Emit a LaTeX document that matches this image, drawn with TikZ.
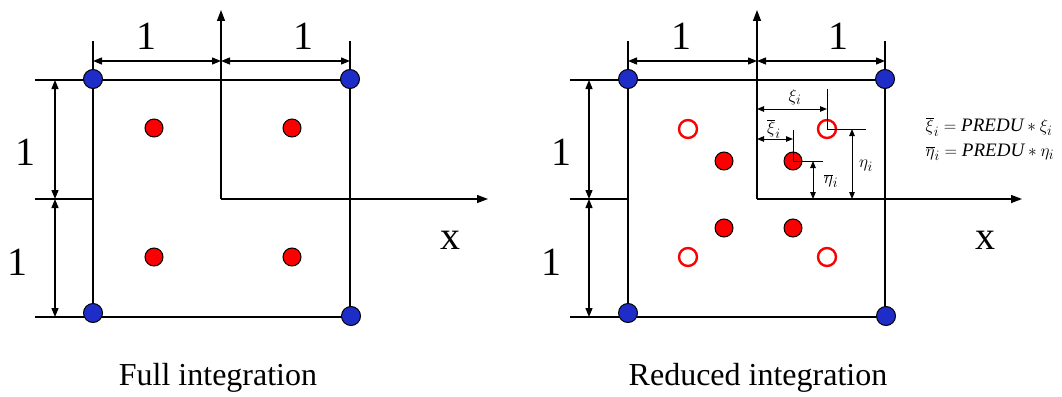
\documentclass[tikz,border=0pt]{standalone}
\usepackage{fontspec}
\setmainfont{Liberation Serif}
\usetikzlibrary{arrows.meta}
\definecolor{nodeblue}{RGB}{30,45,200}
\definecolor{gpred}{RGB}{250,0,0}
\begin{document}
\begin{tikzpicture}[x=1pt, y=-1pt, line width=1.3pt,
    corner/.style = {draw=black, line width=1pt, circle, fill=nodeblue, minimum size=19pt, inner sep=0pt},
    gauss/.style = {draw=black, line width=1pt, circle, fill=gpred, minimum size=18pt, inner sep=0pt},
    hollow/.style = {draw=gpred, line width=2.4pt, circle, fill=white, minimum size=18pt, inner sep=0pt},
    dim/.style = {{Triangle[length=9pt,width=7pt]}-{Triangle[length=9pt,width=7pt]}},
    small/.style = {line width=1pt, {Triangle[length=7pt,width=5.5pt]}-{Triangle[length=7pt,width=5.5pt]}},
    axis/.style = {-{Triangle[length=11pt,width=8pt]}},
    big/.style = {font=\fontsize{40}{44}\selectfont, inner sep=0pt},
    caption/.style = {font=\fontsize{32}{36}\selectfont, inner sep=0pt},
    sym/.style = {font=\fontsize{19}{22}\selectfont, inner sep=0pt}]
\useasboundingbox (0,0) rectangle (1062,396);

% full integration
\coordinate (fo) at (221,199);
\coordinate (fx) at (488,199);
\coordinate (fy) at (221,10);
\coordinate (ftl) at (35,80);
\coordinate (fml) at (35,199);
\coordinate (fbl) at (35,317);
\coordinate (fl) at (93,41);
\coordinate (fr) at (350,41);
\draw (ftl) -- (350,80);
\draw (fbl) -- (350,317);
\draw (fml) -- (93,199);
\draw (fl) -- (93,317);
\draw (fr) -- (350,317);
\draw[axis] (fo) -- (fx);
\draw[axis] (fo) -- (fy);
\draw[dim] (93,61) -- (221,61);
\draw[dim] (221,61) -- (350,61);
\draw[dim] (55,80) -- (55,199);
\draw[dim] (55,199) -- (55,317);
\node[corner] (f1) at (93,79) {};
\node[corner] (f2) at (350,79) {};
\node[corner] (f3) at (93,313) {};
\node[corner] (f4) at (351,316) {};
\node[gauss] (g1) at (154,128) {};
\node[gauss] (g2) at (292,128) {};
\node[gauss] (g3) at (154,257) {};
\node[gauss] (g4) at (292,257) {};
\node[big] (fd1) at (146,36) {1};
\node[big] (fd2) at (303,36) {1};
\node[big] (fd3) at (26,152) {1};
\node[big] (fd4) at (18,262) {1};
\node[big] (fxl) at (450,240) {x};
\node[caption] (fcap) at (218,378) {Full integration};

% reduced integration
\coordinate (ro) at (757,199);
\coordinate (rx) at (1022,199);
\coordinate (ry) at (757,10);
\coordinate (rtl) at (570,80);
\coordinate (rml) at (570,199);
\coordinate (rbl) at (570,317);
\coordinate (rl) at (628,41);
\coordinate (rr) at (885,41);
\draw (rtl) -- (885,80);
\draw (rbl) -- (885,317);
\draw (rml) -- (628,199);
\draw (rl) -- (628,317);
\draw (rr) -- (885,317);
\draw[axis] (ro) -- (rx);
\draw[axis] (ro) -- (ry);
\draw[dim] (628,61) -- (757,61);
\draw[dim] (757,61) -- (885,61);
\draw[dim] (589,80) -- (589,199);
\draw[dim] (589,199) -- (589,317);
\node[corner] (r1) at (628,79) {};
\node[corner] (r2) at (885,79) {};
\node[corner] (r3) at (628,313) {};
\node[corner] (r4) at (886,316) {};
\node[hollow] (h1) at (688,129) {};
\node[hollow] (h2) at (827,129) {};
\node[hollow] (h3) at (688,257) {};
\node[hollow] (h4) at (827,257) {};
\node[gauss] (p1) at (724,161) {};
\node[gauss] (p2) at (793,161) {};
\node[gauss] (p3) at (724,228) {};
\node[gauss] (p4) at (793,228) {};
\draw[line width=1pt] (827,89) -- (h2.center) -- (866,129);
\draw[line width=1pt] (793,130) -- (p2.center) -- (823,161);
\draw[small] (757,109) -- (827,109);
\draw[small] (757,139) -- (793,139);
\draw[small] (813,161) -- (813,199);
\draw[small] (852,129) -- (852,199);
\node[sym] (xil) at (795,97) {$\xi_i$};
\node[sym] (xbl) at (774,129) {$\overline{\xi}_i$};
\node[sym] (ebl) at (831,181) {$\overline{\eta}_i$};
\node[sym] (etl) at (866,166) {$\eta_i$};
\node[sym, anchor=west] (eq1) at (925,127) {$\overline{\xi}_i = \textit{PREDU} * \xi_i$};
\node[sym, anchor=west] (eq2) at (925,152) {$\overline{\eta}_i = \textit{PREDU} * \eta_i$};
\node[big] (rd1) at (681,36) {1};
\node[big] (rd2) at (838,36) {1};
\node[big] (rd3) at (561,152) {1};
\node[big] (rd4) at (551,262) {1};
\node[big] (rxl) at (985,240) {x};
\node[caption] (rcap) at (758,378) {Reduced integration};
\end{tikzpicture}
\end{document}
